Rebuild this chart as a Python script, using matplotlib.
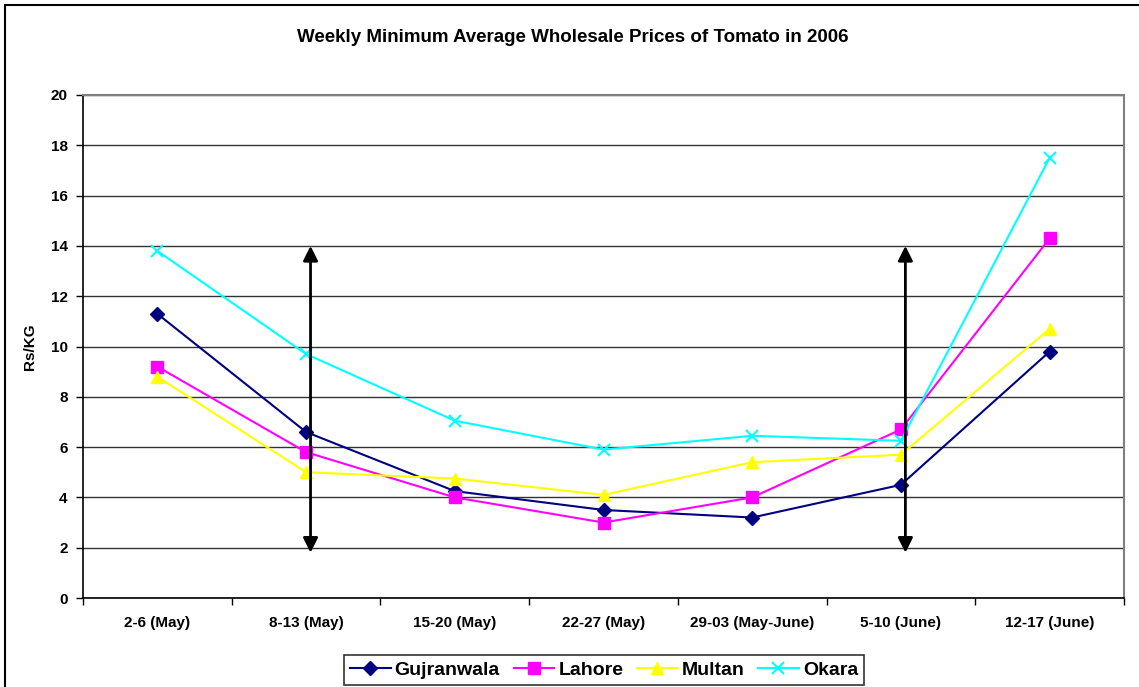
import matplotlib
matplotlib.use("Agg")
import matplotlib.pyplot as plt
from matplotlib.patches import Rectangle

plt.rcParams["font.family"] = ["Liberation Sans", "DejaVu Sans"]
plt.rcParams["font.weight"] = "bold"

weeks = ["2-6 (May)", "8-13 (May)", "15-20 (May)", "22-27 (May)",
         "29-03 (May-June)", "5-10 (June)", "12-17 (June)"]
gujranwala = [11.3, 6.6, 4.25, 3.5, 3.2, 4.5, 9.8]
lahore = [9.2, 5.8, 4.0, 3.0, 4.0, 6.7, 14.3]
multan = [8.8, 5.0, 4.75, 4.1, 5.4, 5.7, 10.7]
okara = [13.8, 9.7, 7.05, 5.9, 6.45, 6.25, 17.5]

# double-headed arrows marking two weeks (position, low, high)
arrow_weeks = [1.03, 5.03]
arrow_low = 1.8
arrow_high = 14.0

fig = plt.figure(figsize=(11.39, 6.87), dpi=100)
ax = fig.add_axes([83 / 1139, 1 - 598 / 687, (1124 - 83) / 1139, (598 - 95) / 687])

# outer chart border
fig.patches.append(Rectangle((5 / 1139, -0.1), 1.2, 1 - 5 / 687 + 0.1,
                             transform=fig.transFigure, fill=False,
                             edgecolor="black", linewidth=1.5))

x = list(range(len(weeks)))
ax.plot(x, gujranwala, color="#000080", marker="D", markersize=7, lw=1.5, label="Gujranwala")
ax.plot(x, lahore, color="#FF00FF", marker="s", markersize=8, lw=1.5, label="Lahore")
ax.plot(x, multan, color="#FFFF00", marker="^", markersize=9, lw=1.5, label="Multan")
ax.plot(x, okara, color="#00FFFF", marker="x", markersize=9, mew=1.5, lw=1.5, label="Okara")

for xa in arrow_weeks:
    ax.annotate("", xy=(xa, arrow_high), xytext=(xa, arrow_low),
                arrowprops=dict(arrowstyle="<|-|>", color="black", lw=2,
                                mutation_scale=22, shrinkA=0, shrinkB=0))

ax.set_xlim(-0.5, len(weeks) - 0.5)
ax.set_ylim(0, 20)
ax.set_yticks(range(0, 21, 2))
ax.set_xticks(x)
ax.set_xticklabels(weeks, fontsize=11, fontweight="bold")
ax.set_xticks([i - 0.5 for i in range(len(weeks) + 1)], minor=True)
ax.tick_params(axis="x", which="major", length=0, pad=13)
ax.tick_params(axis="x", which="minor", length=5, direction="out", width=1)
ax.tick_params(axis="y", length=5, width=1, labelsize=11, pad=6)
for lab in ax.get_yticklabels():
    lab.set_fontweight("bold")

ax.grid(axis="y", color="#333333", lw=1)
ax.set_axisbelow(True)
ax.spines["top"].set_color("#808080")
ax.spines["right"].set_color("#808080")
ax.spines["top"].set_linewidth(1.5)
ax.spines["right"].set_linewidth(1.5)
ax.spines["left"].set_linewidth(1.2)
ax.spines["bottom"].set_linewidth(1.2)

ax.set_ylabel("Rs/KG", fontsize=11, fontweight="bold")
ax.yaxis.set_label_coords((37 - 83) / 1041, 0.5)
fig.text(573 / 1139, 1 - 37 / 687, "Weekly Minimum Average Wholesale Prices of Tomato in 2006",
         ha="center", va="center", fontsize=13.5, fontweight="bold")

leg = fig.legend(loc="center", bbox_to_anchor=(604 / 1139, 1 - 670 / 687), ncol=4,
                 frameon=True, fancybox=False, edgecolor="black", fontsize=14,
                 handlelength=2.1, handletextpad=0.2, columnspacing=0.7,
                 borderpad=0.3)
leg.get_frame().set_linewidth(1.2)

fig.savefig("out.png", dpi=100)
